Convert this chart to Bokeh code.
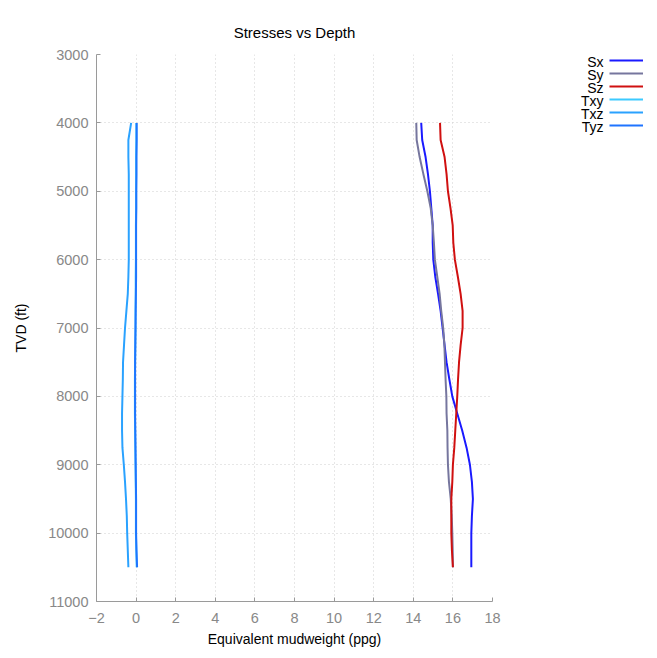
from bokeh.plotting import figure
from bokeh.models import (Range1d, FixedTicker, Legend, LegendItem, Label)
from bokeh.embed import file_html
from bokeh.resources import INLINE

# ---- data ----
depth = [4000, 4250, 4500, 4750, 5000, 5250, 5500, 5750, 6000, 6250, 6500, 6750, 7000,
         7250, 7500, 7750, 8000, 8250, 8500, 8750, 9000, 9250, 9500, 9750, 10000, 10250, 10500]
sx = [14.40, 14.45, 14.62, 14.74, 14.84, 14.91, 14.98, 14.98, 15.01, 15.11, 15.25, 15.38, 15.48,
      15.58, 15.68, 15.82, 15.97, 16.22, 16.47, 16.69, 16.86, 16.96, 17.01, 16.96, 16.93, 16.93, 16.93]
sy = [14.15, 14.17, 14.32, 14.51, 14.71, 14.88, 14.98, 15.04, 15.09, 15.21, 15.33, 15.41, 15.51,
      15.57, 15.60, 15.63, 15.67, 15.68, 15.72, 15.73, 15.75, 15.80, 15.89, 15.94, 15.97, 15.99, 16.00]
sz = [15.35, 15.38, 15.58, 15.68, 15.75, 15.88, 15.99, 16.02, 16.10, 16.25, 16.39, 16.49, 16.49,
      16.39, 16.31, 16.26, 16.22, 16.17, 16.12, 16.07, 16.00, 15.97, 15.92, 15.92, 15.92, 15.95, 16.00]
txy = [0.01, 0.01, 0.00, 0.00, 0.00, 0.00, -0.01, -0.01, -0.01, -0.02, -0.02, -0.03, -0.03,
       -0.04, -0.05, -0.06, -0.06, -0.06, -0.05, -0.04, -0.03, -0.02, -0.01, -0.01, -0.01, 0.01, 0.03]
txz = [-0.25, -0.39, -0.39, -0.37, -0.37, -0.37, -0.37, -0.37, -0.37, -0.39, -0.42, -0.49, -0.56,
       -0.61, -0.66, -0.67, -0.69, -0.71, -0.71, -0.69, -0.62, -0.56, -0.51, -0.47, -0.45, -0.42, -0.39]
tyz = [0.03, 0.03, 0.02, 0.02, 0.01, 0.01, 0.00, 0.00, 0.00, 0.00, -0.01, -0.02, -0.03,
       -0.04, -0.05, -0.05, -0.05, -0.05, -0.04, -0.03, -0.02, -0.01, 0.00, 0.00, 0.00, 0.02, 0.05]

series_names = ["Sx", "Sy", "Sz", "Txy", "Txz", "Tyz"]
series_vals = [sx, sy, sz, txy, txz, tyz]
series_colors = ["#1a1aff", "#76769e", "#d01010", "#3ccaff", "#2aa2ff", "#1f74ff"]

x_ticks = [-2, 0, 2, 4, 6, 8, 10, 12, 14, 16, 18]
y_ticks = [3000, 4000, 5000, 6000, 7000, 8000, 9000, 10000, 11000]

FONT = "Liberation Sans"

p = figure(width=649, height=650, output_backend="svg", toolbar_location=None,
           x_range=Range1d(-2, 18), y_range=Range1d(11000, 3000),
           min_border_left=96, min_border_top=54, min_border_right=157,
           min_border_bottom=49, frame_width=396, frame_height=547)

p.title.text = "Stresses vs Depth"
p.title.align = "center"
p.title.text_font = FONT
p.title.text_font_size = "15px"
p.title.text_font_style = "normal"
p.title.text_color = "black"
p.title.standoff = 27

p.outline_line_color = None

for ax in (p.xaxis[0], p.yaxis[0]):
    ax.axis_line_color = "#9a9a9a"
    ax.major_tick_line_color = "#9a9a9a"
    ax.minor_tick_line_color = None
    ax.major_tick_in = 4
    ax.major_tick_out = 0
    ax.major_label_text_color = "#888888"
    ax.major_label_text_font = FONT
    ax.major_label_text_font_size = "14.5px"
    ax.axis_label_text_font = FONT
    ax.axis_label_text_font_size = "14px"
    ax.axis_label_text_font_style = "normal"
    ax.axis_label_text_color = "black"

p.xaxis.ticker = FixedTicker(ticks=x_ticks)
p.yaxis.ticker = FixedTicker(ticks=y_ticks)
p.xaxis.axis_label = "Equivalent mudweight (ppg)"
p.yaxis.axis_label = "TVD (ft)"
p.xaxis.major_label_standoff = 11
p.yaxis.major_label_standoff = 8
p.xaxis.axis_label_standoff = 5
p.yaxis.axis_label_standoff = 16

p.grid.grid_line_color = "#cfcfcf"
p.grid.grid_line_dash = "1 3"
p.grid.grid_line_width = 1

items = []
for name, vals, col in zip(series_names, series_vals, series_colors):
    r = p.line(vals, depth, line_color=col, line_width=2)
    items.append(LegendItem(label=" ", renderers=[r]))

legend = Legend(items=items, location=(117, 470), padding=0, margin=0,
                spacing=1, glyph_width=34, glyph_height=12, label_height=12,
                label_width=0, label_standoff=0, label_text_font_size="1px",
                label_text_alpha=0,
                border_line_color=None, background_fill_alpha=0)
p.add_layout(legend, "right")

for i, name in enumerate(series_names):
    p.add_layout(Label(x=603, y=61 + i * 13, x_units="canvas", y_units="canvas",
                       text=name, text_align="right", text_baseline="middle",
                       text_font=FONT, text_font_size="14px", text_color="black"),
                 "right")

open("out.html", "w").write(file_html(p, INLINE))
